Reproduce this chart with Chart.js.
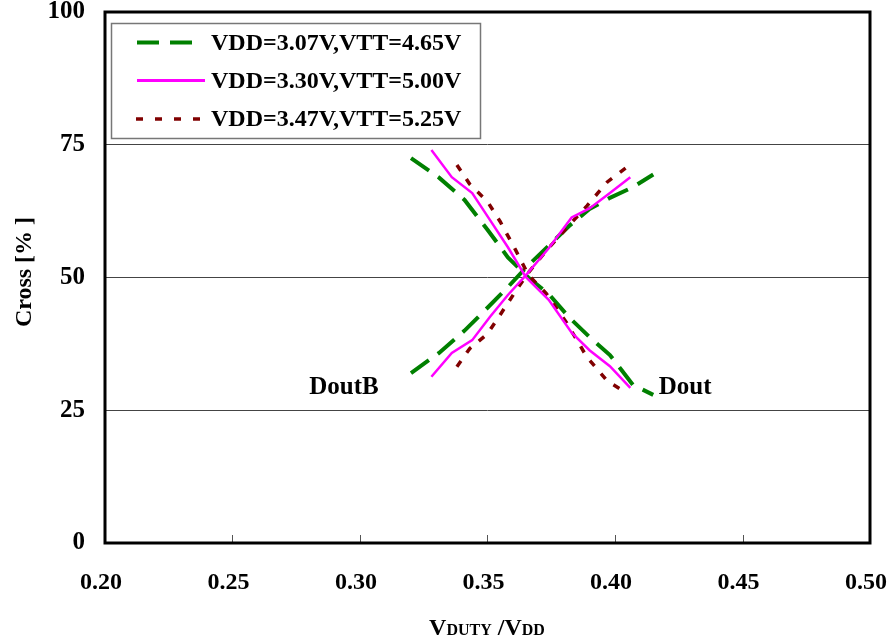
<!DOCTYPE html>
<html>
<head>
<meta charset="utf-8">
<script src="https://cdn.jsdelivr.net/npm/chart.js@4.4.0/dist/chart.umd.min.js"></script>
<style>
html, body { margin: 0; padding: 0; background: #fff; }
canvas { display: block; }
</style>
</head>
<body>
<canvas id="chart" width="890" height="640"></canvas>
<script>
// ===== data =====
const seriesNames = ['VDD=3.07V,VTT=4.65V', 'VDD=3.30V,VTT=5.00V', 'VDD=3.47V,VTT=5.25V'];

// VDD=3.07V
const dutyA  = [0.320, 0.331, 0.341, 0.350, 0.358, 0.366, 0.374, 0.382, 0.390, 0.398, 0.407, 0.415];
const doutA  = [72.5, 68.8, 64.6, 59.0, 53.8, 50.0, 46.9, 42.5, 38.8, 35.4, 29.8, 27.9];
const doutbA = [32.0, 35.8, 40.0, 44.3, 48.2, 52.3, 56.0, 59.7, 62.9, 65.0, 67.0, 69.4];

// VDD=3.30V
const dutyB  = [0.328, 0.336, 0.344, 0.351, 0.358, 0.365, 0.374, 0.383, 0.390, 0.398, 0.406];
const doutB  = [74.0, 68.9, 65.9, 60.8, 55.7, 50.1, 45.8, 39.6, 36.3, 33.3, 29.2];
const doutbB = [31.3, 35.8, 38.2, 42.6, 46.7, 50.4, 55.5, 61.3, 63.0, 65.9, 68.9];

// VDD=3.47V
const dutyC  = [0.338, 0.343, 0.350, 0.355, 0.361, 0.366, 0.373, 0.381, 0.389, 0.397, 0.405];
const doutC  = [71.2, 67.6, 64.3, 60.5, 55.2, 50.5, 47.0, 41.5, 35.0, 30.5, 28.1];
const doutbC = [33.2, 36.6, 39.4, 43.0, 47.4, 50.9, 55.0, 59.3, 63.5, 68.0, 70.9];

const xTicks = [0.20, 0.25, 0.30, 0.35, 0.40, 0.45, 0.50];
const yTicks = [0, 25, 50, 75, 100];

const curveLabels = ['DoutB', 'Dout'];
const curveLabelX = [0.2937, 0.4275];
const curveLabelY = [29.2, 29.2];

// ===== styles =====
const colors = ['#008000', '#ff00ff', '#800000'];
const widths = [4, 2.5, 3.5];
const dashes = [[22, 11], [], [7, 12]];
const legendEnd = [193, 205, 200];
const drawOrder = [2, 0, 1];
const FONT = '"Liberation Serif", "Times New Roman", serif';

const pts = (xs, ys) => xs.map((x, i) => ({ x: x, y: ys[i] }));
const curves = [
    [dutyA, doutA, doutbA],
    [dutyB, doutB, doutbB],
    [dutyC, doutC, doutbC],
];

const datasets = [];
curves.forEach((c, s) => {
    [c[1], c[2]].forEach(ys => {
        datasets.push({
            label: seriesNames[s],
            data: pts(c[0], ys),
            showLine: true,
            borderColor: colors[s],
            borderWidth: widths[s],
            borderDash: s === 2 ? [7, 10] : dashes[s],
            borderCapStyle: 'butt',
            pointRadius: 0,
            tension: 0,
            fill: false,
            order: drawOrder[s],
        });
    });
});

// frame, inward ticks, legend, titles
const extras = {
    id: 'extras',
    afterDraw(chart) {
        const ctx = chart.ctx;
        const a = chart.chartArea;
        const xs = chart.scales.x;
        const ys = chart.scales.y;
        ctx.save();

        // inward ticks on x axis
        ctx.strokeStyle = '#555';
        ctx.lineWidth = 1;
        xTicks.slice(1, -1).forEach(v => {
            const px = Math.round(xs.getPixelForValue(v)) + 0.5;
            ctx.beginPath();
            ctx.moveTo(px, a.bottom);
            ctx.lineTo(px, a.bottom - 8);
            ctx.stroke();
        });

        // frame
        ctx.strokeStyle = '#000';
        ctx.lineWidth = 3;
        ctx.strokeRect(a.left, a.top, a.right - a.left, a.bottom - a.top);

        // legend box
        ctx.fillStyle = '#fff';
        ctx.fillRect(111, 23, 370, 116);
        ctx.strokeStyle = '#777';
        ctx.lineWidth = 1.5;
        ctx.strokeRect(111.5, 23.5, 369, 115);

        const rowY = [42.5, 80.5, 119];
        seriesNames.forEach((name, i) => {
            ctx.strokeStyle = colors[i];
            ctx.lineWidth = widths[i] === 2.5 ? 3 : widths[i];
            ctx.setLineDash(dashes[i]);
            ctx.beginPath();
            ctx.moveTo(i === 2 ? 136 : 137, rowY[i]);
            ctx.lineTo(legendEnd[i], rowY[i]);
            ctx.stroke();
            ctx.setLineDash([]);
            ctx.fillStyle = '#000';
            ctx.font = 'bold 24px ' + FONT;
            ctx.textAlign = 'left';
            ctx.textBaseline = 'middle';
            ctx.fillText(name, 211, rowY[i] + 1);
        });

        // curve labels
        ctx.font = 'bold 25px ' + FONT;
        ctx.textAlign = 'center';
        ctx.textBaseline = 'middle';
        curveLabels.forEach((t, i) => {
            ctx.fillText(t, xs.getPixelForValue(curveLabelX[i]), ys.getPixelForValue(curveLabelY[i]));
        });

        // y title
        ctx.save();
        ctx.translate(25, 272);
        ctx.rotate(-Math.PI / 2);
        ctx.font = 'bold 24px ' + FONT;
        ctx.fillText('Cross [% ]', 0, 0);
        ctx.restore();

        // x title with small caps
        const parts = [['V', 24], ['DUTY', 16], [' /', 24], ['V', 24], ['DD', 16]];
        let total = 0;
        parts.forEach(p => {
            ctx.font = 'bold ' + p[1] + 'px ' + FONT;
            total += ctx.measureText(p[0]).width;
        });
        let x = 487 - total / 2;
        ctx.textAlign = 'left';
        ctx.textBaseline = 'alphabetic';
        parts.forEach(p => {
            ctx.font = 'bold ' + p[1] + 'px ' + FONT;
            ctx.fillText(p[0], x, 635);
            x += ctx.measureText(p[0]).width;
        });

        ctx.restore();
    }
};

new Chart(document.getElementById('chart'), {
    type: 'scatter',
    data: { datasets: datasets },
    options: {
        responsive: false,
        animation: false,
        layout: { padding: { top: 12, right: 20, left: 0, bottom: 0 } },
        plugins: {
            legend: { display: false },
            tooltip: { enabled: false },
        },
        scales: {
            x: {
                type: 'linear',
                min: 0.2,
                max: 0.5,
                afterBuildTicks: s => { s.ticks = xTicks.map(v => ({ value: v })); },
                afterFit: s => {
                    s.height = 97;
                    s.paddingLeft = 0;
                    s.paddingRight = 0;
                },
                grid: { display: false, drawTicks: false },
                border: { display: false },
                ticks: {
                    callback: v => v.toFixed(2),
                    font: { family: FONT, size: 24, weight: 'bold' },
                    color: '#000',
                    padding: 25,
                    labelOffset: -4,
                    maxRotation: 0,
                },
            },
            y: {
                min: 0,
                max: 100,
                afterBuildTicks: s => { s.ticks = yTicks.map(v => ({ value: v })); },
                afterFit: s => {
                    s.width = 105;
                    s.paddingTop = 0;
                    s.paddingBottom = 0;
                },
                grid: { color: '#444', lineWidth: 1, drawTicks: false },
                border: { display: false },
                ticks: {
                    font: { family: FONT, size: 25, weight: 'bold' },
                    color: '#000',
                    padding: 20,
                },
            },
        },
    },
    plugins: [extras],
});
</script>
</body>
</html>
